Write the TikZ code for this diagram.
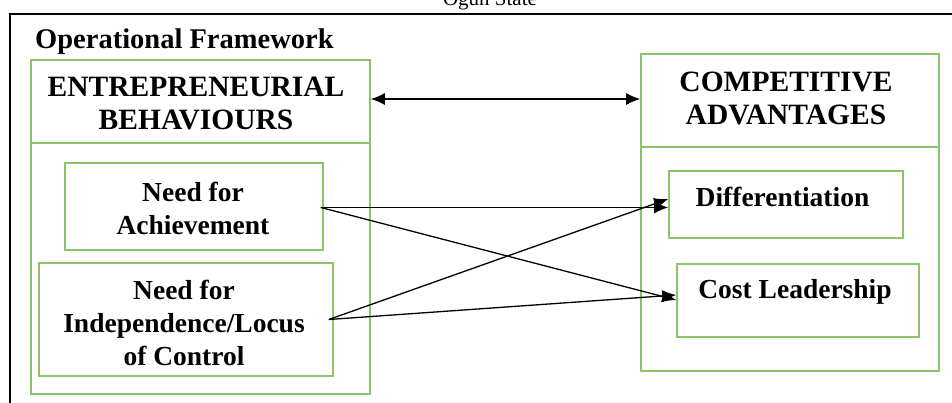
\documentclass[tikz,border=0pt]{standalone}
\usepackage{fontspec}
\setmainfont{Liberation Serif}
\usetikzlibrary{arrows.meta}
\definecolor{boxgreen}{RGB}{140,196,108}
\tikzset{
  gbox/.style={draw=boxgreen, line width=1.6pt, rectangle, inner sep=0pt, anchor=center},
  btext/.style={font=\fontsize{27.5}{33}\selectfont\bfseries, align=center, inner sep=0pt},
  htext/.style={font=\fontsize{29.5}{33}\selectfont\bfseries, align=center, inner sep=0pt},
  arr/.style={line width=1.3pt, -{Latex[length=14pt,width=12pt]}},
  darr/.style={line width=1.3pt, {Latex[length=14pt,width=12pt]}-{Latex[length=14pt,width=12pt]}}
}
\begin{document}
\begin{tikzpicture}[x=1pt,y=-1pt]
\useasboundingbox (0,0) rectangle (952,403);
% outer frame (left and top only visible)
\draw[line width=2pt] (10,410) -- (10,14) -- (960,14);
\node[font=\fontsize{21}{24}\selectfont, anchor=base, inner sep=0pt] (title) at (490,6) {Ogun State};
\node[btext, anchor=base west, font=\fontsize{28.5}{33}\selectfont\bfseries] (op) at (35,49) {Operational Framework};
% left side
\node[gbox, minimum width=339pt, minimum height=251pt] (lbody) at (200.5,268.5) {};
\node[gbox, minimum width=339pt, minimum height=83pt, fill=white] (lhead) at (200.5,101.5) {};
\node[htext] (lheadt) at (196,103.5) {ENTREPRENEURIAL\\BEHAVIOURS};
\node[gbox, minimum width=258pt, minimum height=87pt] (ach) at (194,206.5) {};
\node[btext] (acht) at (193,208.5) {Need for\\Achievement};
\node[gbox, minimum width=294pt, minimum height=113pt] (ind) at (186,319.5) {};
\node[btext] (indt) at (184,322.5) {Need for\\Independence/Locus\\of Control};
% right side
\node[gbox, minimum width=298pt, minimum height=224pt] (rbody) at (790,259) {};
\node[gbox, minimum width=298pt, minimum height=93pt, fill=white] (rhead) at (790,100.5) {};
\node[htext] (rheadt) at (786,98.5) {COMPETITIVE\\ADVANTAGES};
\node[gbox, minimum width=234pt, minimum height=67pt] (diff) at (786,204.5) {};
\node[btext] (difft) at (782.5,197) {Differentiation};
\node[gbox, minimum width=242pt, minimum height=73pt] (cost) at (798,300.5) {};
\node[btext] (costt) at (795,292) {Cost Leadership};
% connectors
\coordinate (la) at ([xshift=-3pt,yshift=-1pt]ach.east);
\coordinate (li) at ([xshift=-5pt]ind.east);
\coordinate (rd2) at ([yshift=5.5pt]diff.west);
\coordinate (rc1) at ([yshift=0.5pt]cost.west);
\coordinate (rc2) at ([yshift=5.5pt]cost.west);
\coordinate (dl) at ([yshift=2.5pt]lhead.east);
\draw[darr] (dl) -- (dl -| rhead.west);
\draw[arr] (la) -- (la -| diff.west);
\draw[arr] (la) -- (rc1);
\draw[arr] (li) -- (rd2);
\draw[arr] (li) -- (rc2);
\end{tikzpicture}
\end{document}
